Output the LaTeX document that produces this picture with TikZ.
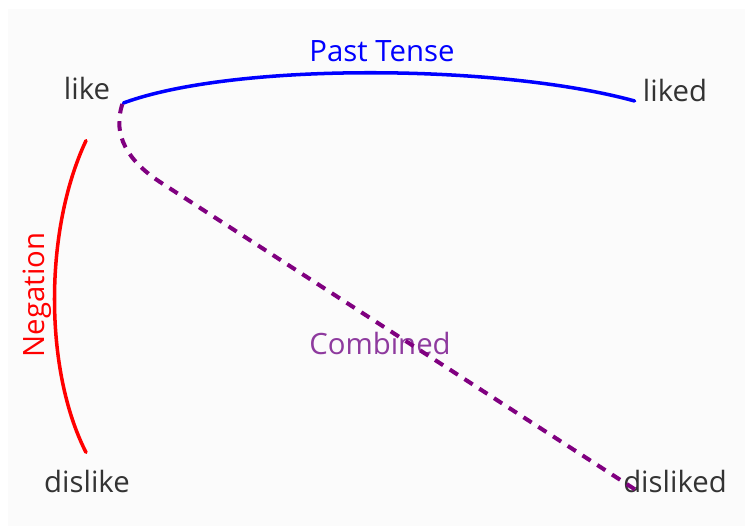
\documentclass[tikz,border=0pt]{standalone}
\usepackage{fontspec}
\setmainfont{Open Sans}
\usetikzlibrary{positioning,calc}
\definecolor{wordgray}{HTML}{333333}
\definecolor{bggray}{HTML}{FBFBFB}
\definecolor{combpurple}{HTML}{8E3A9E}
\definecolor{linepurple}{HTML}{800080}
\tikzset{
  word/.style={font=\fontsize{16.7}{20}\selectfont, text=wordgray, inner sep=0pt, anchor=base},
  rel/.style={font=\fontsize{16.7}{20}\selectfont, inner sep=0pt, anchor=base},
  arc/.style={line width=2pt, line cap=round},
}

\begin{document}
\begin{tikzpicture}[x=0.02cm, y=-0.02cm]
    \useasboundingbox (0,0) rectangle (745,526);
    \fill[bggray] (8,9) rectangle (745,526);

    % Words
    \node[word] (like) at (87,100) {like};
    \node[word] (liked) at (675,102) {liked};
    \node[word] (dislike) at (87,493) {dislike};
    \node[word] (disliked) at (675,493) {disliked};

    % Relation labels
    \node[rel, blue] (past) at (382,62) {Past Tense};
    \node[rel, red, rotate=90] (negation) at (45,295) {Negation};
    \node[rel, combpurple] (combined) at (380,355) {Combined};

    \draw[arc, blue] ([shift={(13,3)}]like.base east)
        .. controls (235,62) and (500,64) .. ([shift={(-8,-1)}]liked.base west);
    \draw[arc, red] ([shift={(-1,40)}]like.south)
        .. controls (44,230) and (44,370) .. ([shift={(-1,-18)}]dislike.north);
    \draw[arc, linepurple, line width=2.3pt, dash pattern=on 5.5pt off 4.5pt, line cap=butt]
        ([shift={(12,4)}]like.base east) .. controls (112,135) and (128,161) .. (160,182)
        -- ([shift={(13,-3)}]disliked.base west);
\end{tikzpicture}
\end{document}
